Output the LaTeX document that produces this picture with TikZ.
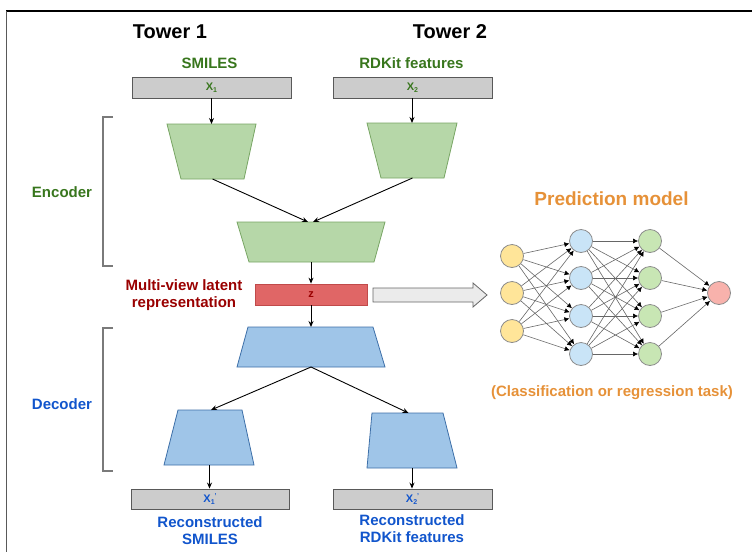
\documentclass[tikz,border=0pt]{standalone}
\usepackage{fontspec}
\setmainfont{Liberation Sans}
\usetikzlibrary{arrows.meta}
\definecolor{txtgreen}{HTML}{38761D}
\definecolor{txtblue}{HTML}{1155CC}
\definecolor{txtred}{HTML}{990000}
\definecolor{txtorange}{HTML}{E69138}
\definecolor{encfill}{HTML}{B6D7A8}
\definecolor{encdraw}{HTML}{78A564}
\definecolor{decfill}{HTML}{9FC5E8}
\definecolor{decdraw}{HTML}{3D6FA8}
\definecolor{boxfill}{HTML}{CCCCCC}
\definecolor{boxdraw}{HTML}{595959}
\definecolor{zfill}{HTML}{E06666}
\definecolor{zdraw}{HTML}{C04A4A}
\definecolor{nyel}{HTML}{FFE599}
\definecolor{nblue}{HTML}{C9E4F7}
\definecolor{ngreen}{HTML}{C8E6B4}
\definecolor{npink}{HTML}{F8B2AC}
\definecolor{nborder}{HTML}{8C8C8C}
\newcommand{\xsubsup}[1]{X\raisebox{-2pt}{\fontsize{7}{8}\selectfont #1}\raisebox{4pt}{\fontsize{7}{8}\selectfont '}}
\begin{document}
\begin{tikzpicture}[x=1pt,y=-1pt,
  title/.style={font=\fontsize{20}{22}\selectfont\bfseries, text=black, inner sep=0},
  lab/.style={font=\fontsize{15}{17}\selectfont\bfseries, inner sep=0, align=center},
  databox/.style={draw=boxdraw, fill=boxfill, line width=0.9pt, minimum height=21pt, inner sep=0, font=\fontsize{11}{12}\selectfont\bfseries},
  enc/.style={draw=encdraw, fill=encfill, line width=0.8pt},
  dec/.style={draw=decdraw, fill=decfill, line width=0.8pt},
  arr/.style={draw=black, line width=0.9pt, -{Stealth[length=6pt,width=5pt]}},
  bracketline/.style={draw=boxdraw!80, line width=1.3pt},
  neuron/.style={circle, minimum size=23pt, inner sep=0, draw=nborder, line width=0.8pt},
  nnarr/.style={draw=black!60, line width=0.6pt, -{Latex[length=5pt,width=5pt,color=black]}}
]
\useasboundingbox (0,0) rectangle (752,552);
% frame
\draw[black, line width=1.1pt] (6,11) -- (752,11);
\draw[black!65, line width=1.4pt] (6.5,11) -- (6.5,552);

% titles
\node[title] (t1) at (170,31.5) {Tower 1};
\node[title] (t2) at (450,31.5) {Tower 2};
\node[lab, text=txtgreen] (s1) at (209.5,63) {SMILES};
\node[lab, text=txtgreen] (s2) at (411.5,63) {RDKit features};

% inputs
\node[databox, minimum width=159pt, text=txtgreen] (x1) at (211.5,87.5) {X\raisebox{-2pt}{\fontsize{7}{8}\selectfont 1}};
\node[databox, minimum width=159pt, text=txtgreen] (x2) at (412.5,87.5) {X\raisebox{-2pt}{\fontsize{7}{8}\selectfont 2}};

% encoder trapezoids
\filldraw[enc] (167,124) -- (256,124) -- (244,179) -- (181,179) -- cycle;
\coordinate (e1t) at (211.5,124); \coordinate (e1b) at (212.5,179);
\filldraw[enc] (367,123) -- (457,123) -- (444,178) -- (381,178) -- cycle;
\coordinate (e2t) at (412,123); \coordinate (e2b) at (412.5,178);
\filldraw[enc] (237,222) -- (385,222) -- (374,262) -- (249,262) -- cycle;
\coordinate (e3tl) at (308,222); \coordinate (e3tr) at (313,222); \coordinate (e3b) at (311,262);

% latent
\node[draw=zdraw, fill=zfill, line width=0.8pt, minimum width=112pt, minimum height=21pt, inner sep=0,
  font=\fontsize{11}{12}\selectfont\bfseries, text=txtred] (z) at (311,294.5) {z};
\node[lab, text=txtred] (mv) at (184,295.5) {Multi-view latent\\representation};

% big arrow to prediction model
\filldraw[fill=black!8, draw=black!60, line width=0.8pt]
  (373,288) -- (473,288) -- (473,283) -- (487,295) -- (473,307) -- (473,302) -- (373,302) -- cycle;

% decoder trapezoids
\filldraw[dec] (248,327) -- (373,327) -- (385,367) -- (237,367) -- cycle;
\coordinate (d1t) at (311,327); \coordinate (d1b) at (311,367);
\filldraw[dec] (178,410) -- (242,410) -- (254,465) -- (164,465) -- cycle;
\coordinate (d2t) at (211,410); \coordinate (d2b) at (209.5,465);
\filldraw[dec] (372,413) -- (443,413) -- (457,468) -- (367,468) -- cycle;
\coordinate (d3t) at (408.5,413); \coordinate (d3b) at (412,468);

% outputs
\node[databox, minimum width=158pt, minimum height=20pt, text=txtblue] (o1) at (210,499) {\xsubsup{1}};
\node[databox, minimum width=159pt, minimum height=20pt, text=txtblue] (o2) at (412.5,499) {\xsubsup{2}};
\node[lab, text=txtblue] (r1) at (210,531) {Reconstructed\\SMILES};
\node[lab, text=txtblue] (r2) at (412,529) {Reconstructed\\RDKit features};

% connectors
\draw[arr] (x1.south -| e1t) -- (e1t);
\draw[arr] (x2.south -| e2t) -- (e2t);
\draw[arr] (e1b) -- (e3tl);
\draw[arr] (e2b) -- (e3tr);
\draw[arr] (e3b) -- (z.north -| e3b);
\draw[arr] (z.south -| d1t) -- (d1t);
\draw[arr] (d1b) -- (d2t);
\draw[arr] (d1b) -- (d3t);
\draw[arr] (d2b) -- (o1.north -| d2b);
\draw[arr] (d3b) -- (o2.north -| d3b);

% brackets and labels
\draw[bracketline] (113,117) -- (103,117) -- (103,266) -- (113,266);
\draw[bracketline] (113,328) -- (103,328) -- (103,471) -- (113,471);
\node[lab, text=txtgreen] (encl) at (62,192) {Encoder};
\node[lab, text=txtblue] (decl) at (62,404) {Decoder};

% prediction model
\node[font=\fontsize{19}{22}\selectfont\bfseries, text=txtorange, inner sep=0] (pm) at (611.5,199) {Prediction model};
\node[lab, text=txtorange] (ct) at (612,393) {(Classification or regression task)};

\node[neuron, fill=nyel] (i1) at (512,256) {};
\node[neuron, fill=nyel] (i2) at (512,293) {};
\node[neuron, fill=nyel] (i3) at (512,331) {};
\foreach \k/\yy in {1/241,2/278,3/316,4/354} {
  \node[neuron, fill=nblue] (h\k) at (581,\yy) {};
  \node[neuron, fill=ngreen] (g\k) at (650,\yy) {};
}
\node[neuron, fill=npink] (out) at (719,293) {};
\foreach \a in {1,2,3} \foreach \b in {1,2,3,4} \draw[nnarr] (i\a) -- (h\b);
\foreach \a in {1,2,3,4} \foreach \b in {1,2,3,4} \draw[nnarr] (h\a) -- (g\b);
\foreach \a in {1,2,3,4} \draw[nnarr] (g\a) -- (out);
\end{tikzpicture}
\end{document}
